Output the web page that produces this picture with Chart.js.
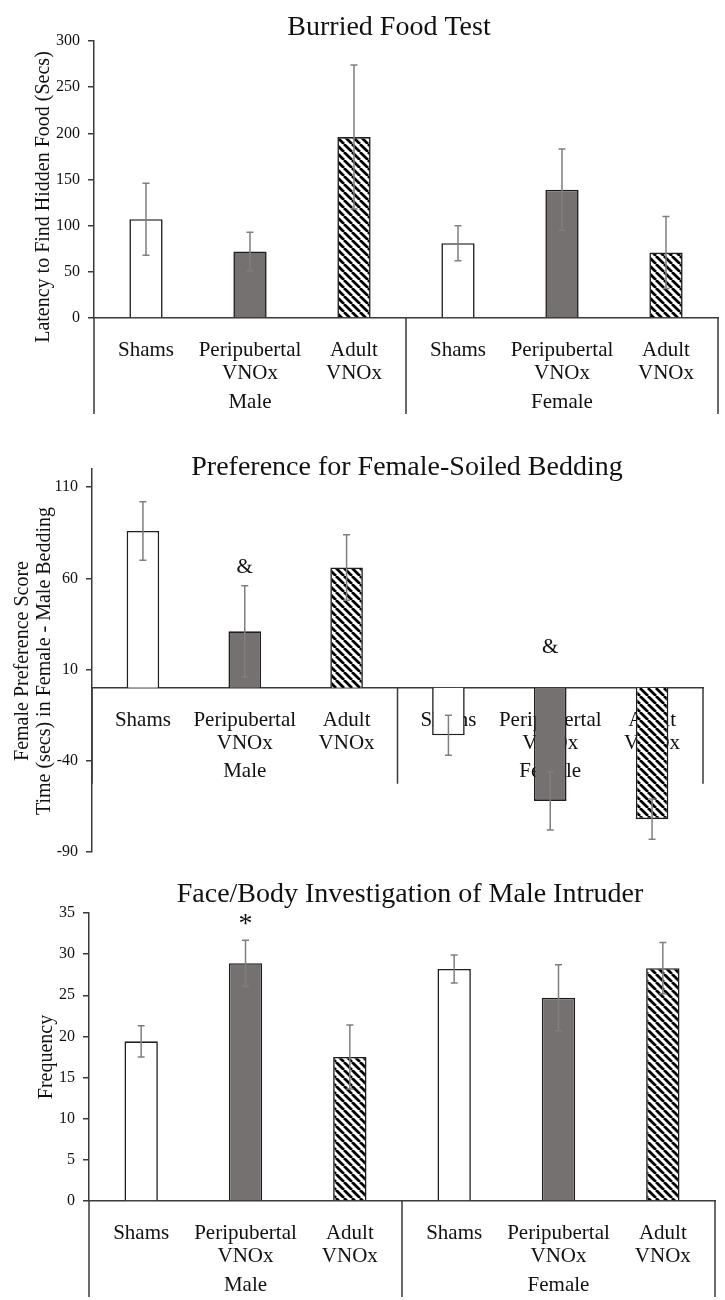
<!DOCTYPE html>
<html>
<head>
<meta charset="utf-8">
<script src="https://cdn.jsdelivr.net/npm/chart.js@4.4.1/dist/chart.umd.min.js"></script>
<style>
  html, body { margin: 0; padding: 0; background: #fff; }
  #page { position: relative; width: 725px; height: 1300px; }
  #page canvas { position: absolute; left: 0; }
</style>
</head>
<body>
<div id="page">
  <canvas id="food" width="725" height="430" style="top:0px"></canvas>
  <canvas id="pref" width="725" height="430" style="top:440px"></canvas>
  <canvas id="freq" width="725" height="430" style="top:870px"></canvas>
</div>
<script>
// Categories shared by the three panels
const categories = ['Shams', ['Peripubertal', 'VNOx'], ['Adult', 'VNOx'], 'Shams', ['Peripubertal', 'VNOx'], ['Adult', 'VNOx']];
const groups = ['Male', 'Female'];

// Burried food test
const foodMeans = [107, 72, 196, 81, 139, 71];
const foodErrors = [39, 21, 78, 19, 44, 39];
const foodTicks = [0, 50, 100, 150, 200, 250, 300];

// Preference for female-soiled bedding
const prefMeans = [86, 31, 66, -26, -62, -72];
const prefErrors = [16, 25, 18, 11, 16, 11];
const prefTicks = [-90, -40, 10, 60, 110];
const prefMarks = ['', '&', '', '', '&', ''];
const prefMarkValues = [null, 66, null, null, 22, null];

// Face/body investigation
const freqMeans = [19.4, 28.9, 17.5, 28.2, 24.7, 28.3];
const freqErrors = [1.9, 2.8, 3.9, 1.7, 4.0, 3.1];
const freqTicks = [0, 5, 10, 15, 20, 25, 30, 35];
const freqMarks = ['', '*', '', '', '', ''];
const freqMarkValues = [null, 33.6, null, null, null, null];

const SERIF = '"Liberation Serif", "Times New Roman", serif';
const TEXT = '#111111';
const AXIS = '#3a3a3a';

/**
 * Motif hachuré "\" pour les barres Adult VNOx
 */
function makeHatch() {
  const p = 8;
  const c = document.createElement('canvas');
  c.width = p;
  c.height = p;
  const g = c.getContext('2d');
  g.fillStyle = '#fff';
  g.fillRect(0, 0, p, p);
  g.strokeStyle = '#000';
  g.lineWidth = 2.8;
  g.beginPath();
  for (const k of [-p, 0, p]) {
    g.moveTo(k, 0);
    g.lineTo(k + p, p);
  }
  g.stroke();
  return g.createPattern(c, 'repeat');
}

const hatch = makeHatch();
const fills = ['#ffffff', '#767171', hatch, '#ffffff', '#767171', hatch];

function rotatedText(ctx, text, x, y) {
  ctx.save();
  ctx.translate(x, y);
  ctx.rotate(-Math.PI / 2);
  ctx.fillText(text, 0, 0);
  ctx.restore();
}

/**
 * Décor : séparateurs de groupes, barres d'erreur, marques et titres
 */
const decorPlugin = {
  id: 'decor',
  beforeDatasetsDraw(chart, args, opts) {
    const { ctx, scales: { x, y } } = chart;
    const base = y.getPixelForValue(0);
    const cuts = [x.left, (x.getPixelForValue(2) + x.getPixelForValue(3)) / 2, x.right];

    ctx.save();
    ctx.strokeStyle = AXIS;
    ctx.lineWidth = 1.5;
    ctx.beginPath();
    cuts.forEach(cx => {
      ctx.moveTo(cx, base);
      ctx.lineTo(cx, base + 96);
    });
    ctx.stroke();

    ctx.fillStyle = TEXT;
    ctx.font = '21px ' + SERIF;
    ctx.textAlign = 'center';
    ctx.textBaseline = 'middle';
    groups.forEach((g, i) => {
      const gx = (x.getPixelForValue(i * 3) + x.getPixelForValue(i * 3 + 2)) / 2;
      ctx.fillText(g, gx, base + 84);
    });
    ctx.restore();
  },
  afterDatasetsDraw(chart, args, opts) {
    const { ctx, scales: { y } } = chart;
    const means = chart.data.datasets[0].data;
    const meta = chart.getDatasetMeta(0);

    // Barres d'erreur
    ctx.save();
    ctx.strokeStyle = '#7f7f7f';
    ctx.lineWidth = 1.5;
    meta.data.forEach((bar, i) => {
      const top = y.getPixelForValue(means[i] + opts.errors[i]);
      const bottom = y.getPixelForValue(means[i] - opts.errors[i]);
      ctx.beginPath();
      ctx.moveTo(bar.x, top);
      ctx.lineTo(bar.x, bottom);
      ctx.moveTo(bar.x - 3.5, top);
      ctx.lineTo(bar.x + 3.5, top);
      ctx.moveTo(bar.x - 3.5, bottom);
      ctx.lineTo(bar.x + 3.5, bottom);
      ctx.stroke();
    });

    // Marques de significativité
    if (opts.marks) {
      ctx.fillStyle = TEXT;
      ctx.font = opts.markFont + 'px ' + SERIF;
      ctx.textAlign = 'center';
      ctx.textBaseline = 'middle';
      opts.marks.forEach((m, i) => {
        if (!m) return;
        ctx.fillText(m, meta.data[i].x, y.getPixelForValue(opts.markValues[i]));
      });
    }
    ctx.restore();
  },
  afterDraw(chart, args, opts) {
    const ctx = chart.ctx;
    ctx.save();
    ctx.fillStyle = TEXT;
    ctx.textAlign = 'center';
    ctx.textBaseline = 'middle';
    ctx.font = '28px ' + SERIF;
    ctx.fillText(opts.title, opts.titleAt[0], opts.titleAt[1]);

    ctx.font = '20px ' + SERIF;
    opts.yTitle.forEach((line, i) => rotatedText(ctx, line, opts.yTitleX[i], opts.yTitleY));
    ctx.restore();
  }
};

/**
 * Crée un panneau avec une zone de tracé fixée
 */
function buildChart(id, cfg) {
  const canvas = document.getElementById(id);
  return new Chart(canvas, {
    type: 'bar',
    data: {
      labels: categories,
      datasets: [{
        data: cfg.means,
        backgroundColor: fills,
        borderColor: '#1f1f1f',
        borderWidth: 1.6,
        barPercentage: 0.32,
        categoryPercentage: 1
      }]
    },
    options: {
      responsive: false,
      animation: false,
      layout: {
        padding: { top: cfg.area.top, right: 725 - cfg.area.right, bottom: cfg.padBottom, left: 0 }
      },
      plugins: {
        legend: { display: false },
        tooltip: { enabled: false },
        decor: {
          errors: cfg.errors,
          marks: cfg.marks || null,
          markValues: cfg.markValues || null,
          markFont: cfg.markFont || 21,
          title: cfg.title,
          titleAt: cfg.titleAt,
          yTitle: cfg.yTitle,
          yTitleX: cfg.yTitleX,
          yTitleY: cfg.yTitleY
        }
      },
      scales: {
        x: {
          type: 'category',
          offset: true,
          position: cfg.xPosition || 'bottom',
          grid: { display: false },
          border: { display: true, color: AXIS, width: 1.5 },
          ticks: {
            color: TEXT,
            font: { family: SERIF, size: 21, lineHeight: 1.1 },
            padding: 13,
            maxRotation: 0,
            autoSkip: false
          },
          afterFit: s => {
            if (cfg.xHeight) s.height = cfg.xHeight;
          }
        },
        y: {
          min: cfg.min,
          max: cfg.max,
          grid: { display: true, drawOnChartArea: false, drawTicks: true, tickLength: 6, color: AXIS, lineWidth: 1.5 },
          border: { display: true, color: AXIS, width: 1.5 },
          ticks: {
            color: TEXT,
            font: { family: SERIF, size: 16 },
            padding: 8
          },
          afterBuildTicks: s => {
            s.ticks = cfg.ticks.map(v => ({ value: v }));
          },
          afterFit: s => {
            s.width = cfg.area.left;
          }
        }
      }
    },
    plugins: [decorPlugin]
  });
}

buildChart('food', {
  means: foodMeans,
  errors: foodErrors,
  ticks: foodTicks,
  min: 0,
  max: 300,
  area: { left: 94, top: 41, right: 718 },
  xHeight: 112,
  padBottom: 0,
  title: 'Burried Food Test',
  titleAt: [389, 28],
  yTitle: ['Latency to Find Hidden Food (Secs)'],
  yTitleX: [44],
  yTitleY: 197
});

buildChart('pref', {
  means: prefMeans,
  errors: prefErrors,
  ticks: prefTicks,
  min: -90,
  max: 120,
  area: { left: 92, top: 29, right: 703 },
  xPosition: { y: 0 },
  padBottom: 18,
  marks: prefMarks,
  markValues: prefMarkValues,
  markFont: 21,
  title: 'Preference for Female-Soiled Bedding',
  titleAt: [407, 28],
  yTitle: ['Female Preference Score', 'Time (secs) in Female - Male Bedding'],
  yTitleX: [23, 45],
  yTitleY: 221
});

buildChart('freq', {
  means: freqMeans,
  errors: freqErrors,
  ticks: freqTicks,
  min: 0,
  max: 35,
  area: { left: 89, top: 43, right: 715 },
  xHeight: 99,
  padBottom: 0,
  marks: freqMarks,
  markValues: freqMarkValues,
  markFont: 28,
  title: 'Face/Body Investigation of Male Intruder',
  titleAt: [410, 25],
  yTitle: ['Frequency'],
  yTitleX: [47],
  yTitleY: 187
});
</script>
</body>
</html>
